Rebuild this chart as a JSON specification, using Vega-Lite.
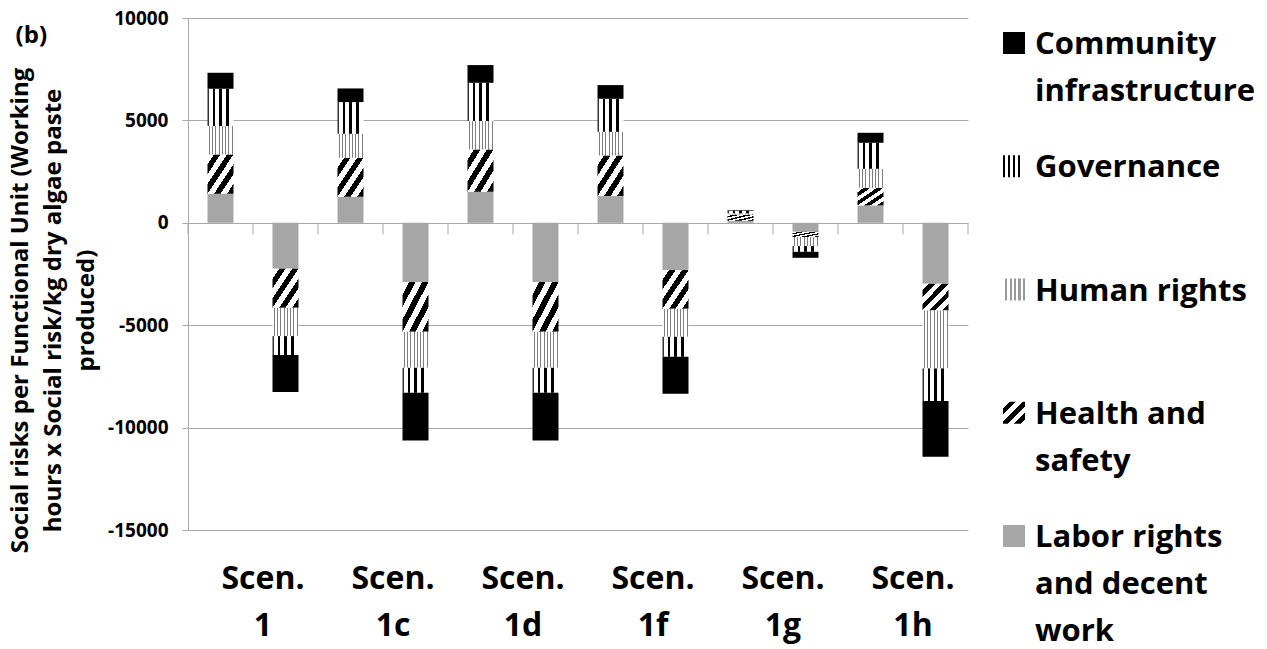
{
  "$schema": "https://vega.github.io/schema/vega-lite/v6.json",
  "autosize": {"type": "none"},
  "padding": {"left": 188, "top": 18, "right": 1079, "bottom": 631},
  "background": "white",
  "bounds": "flush",
  "spacing": 20,
  "config": {"font": "Open Sans", "view": {"stroke": null}},
  "datasets": {
    "risks": [
      {"scen": "1", "sign": "pos", "cat": "Labor rights and decent work", "k": 1, "value": 1417},
      {"scen": "1", "sign": "pos", "cat": "Health and safety", "k": 2, "value": 1923},
      {"scen": "1", "sign": "pos", "cat": "Human rights", "k": 3, "value": 1382},
      {"scen": "1", "sign": "pos", "cat": "Governance", "k": 4, "value": 1822},
      {"scen": "1", "sign": "pos", "cat": "Community infrastructure", "k": 5, "value": 781},
      {"scen": "1", "sign": "neg", "cat": "Labor rights and decent work", "k": 1, "value": -2246},
      {"scen": "1", "sign": "neg", "cat": "Health and safety", "k": 2, "value": -1904},
      {"scen": "1", "sign": "neg", "cat": "Human rights", "k": 3, "value": -1383},
      {"scen": "1", "sign": "neg", "cat": "Governance", "k": 4, "value": -927},
      {"scen": "1", "sign": "neg", "cat": "Community infrastructure", "k": 5, "value": -1807},
      {"scen": "1c", "sign": "pos", "cat": "Labor rights and decent work", "k": 1, "value": 1270},
      {"scen": "1c", "sign": "pos", "cat": "Health and safety", "k": 2, "value": 1905},
      {"scen": "1c", "sign": "pos", "cat": "Human rights", "k": 3, "value": 1172},
      {"scen": "1c", "sign": "pos", "cat": "Governance", "k": 4, "value": 1547},
      {"scen": "1c", "sign": "pos", "cat": "Community infrastructure", "k": 5, "value": 666},
      {"scen": "1c", "sign": "neg", "cat": "Labor rights and decent work", "k": 1, "value": -2896},
      {"scen": "1c", "sign": "neg", "cat": "Health and safety", "k": 2, "value": -2426},
      {"scen": "1c", "sign": "neg", "cat": "Human rights", "k": 3, "value": -1758},
      {"scen": "1c", "sign": "neg", "cat": "Governance", "k": 4, "value": -1221},
      {"scen": "1c", "sign": "neg", "cat": "Community infrastructure", "k": 5, "value": -2325},
      {"scen": "1d", "sign": "pos", "cat": "Labor rights and decent work", "k": 1, "value": 1514},
      {"scen": "1d", "sign": "pos", "cat": "Health and safety", "k": 2, "value": 2070},
      {"scen": "1d", "sign": "pos", "cat": "Human rights", "k": 3, "value": 1382},
      {"scen": "1d", "sign": "pos", "cat": "Governance", "k": 4, "value": 1871},
      {"scen": "1d", "sign": "pos", "cat": "Community infrastructure", "k": 5, "value": 864},
      {"scen": "1d", "sign": "neg", "cat": "Labor rights and decent work", "k": 1, "value": -2896},
      {"scen": "1d", "sign": "neg", "cat": "Health and safety", "k": 2, "value": -2426},
      {"scen": "1d", "sign": "neg", "cat": "Human rights", "k": 3, "value": -1758},
      {"scen": "1d", "sign": "neg", "cat": "Governance", "k": 4, "value": -1221},
      {"scen": "1d", "sign": "neg", "cat": "Community infrastructure", "k": 5, "value": -2325},
      {"scen": "1f", "sign": "pos", "cat": "Labor rights and decent work", "k": 1, "value": 1304},
      {"scen": "1f", "sign": "pos", "cat": "Health and safety", "k": 2, "value": 1987},
      {"scen": "1f", "sign": "pos", "cat": "Human rights", "k": 3, "value": 1153},
      {"scen": "1f", "sign": "pos", "cat": "Governance", "k": 4, "value": 1611},
      {"scen": "1f", "sign": "pos", "cat": "Community infrastructure", "k": 5, "value": 669},
      {"scen": "1f", "sign": "neg", "cat": "Labor rights and decent work", "k": 1, "value": -2310},
      {"scen": "1f", "sign": "neg", "cat": "Health and safety", "k": 2, "value": -1890},
      {"scen": "1f", "sign": "neg", "cat": "Human rights", "k": 3, "value": -1367},
      {"scen": "1f", "sign": "neg", "cat": "Governance", "k": 4, "value": -976},
      {"scen": "1f", "sign": "neg", "cat": "Community infrastructure", "k": 5, "value": -1807},
      {"scen": "1g", "sign": "pos", "cat": "Labor rights and decent work", "k": 1, "value": 100},
      {"scen": "1g", "sign": "pos", "cat": "Health and safety", "k": 2, "value": 300},
      {"scen": "1g", "sign": "pos", "cat": "Human rights", "k": 3, "value": 60},
      {"scen": "1g", "sign": "pos", "cat": "Governance", "k": 4, "value": 130},
      {"scen": "1g", "sign": "pos", "cat": "Community infrastructure", "k": 5, "value": 30},
      {"scen": "1g", "sign": "neg", "cat": "Labor rights and decent work", "k": 1, "value": -440},
      {"scen": "1g", "sign": "neg", "cat": "Health and safety", "k": 2, "value": -260},
      {"scen": "1g", "sign": "neg", "cat": "Human rights", "k": 3, "value": -438},
      {"scen": "1g", "sign": "neg", "cat": "Governance", "k": 4, "value": -278},
      {"scen": "1g", "sign": "neg", "cat": "Community infrastructure", "k": 5, "value": -293},
      {"scen": "1h", "sign": "pos", "cat": "Labor rights and decent work", "k": 1, "value": 850},
      {"scen": "1h", "sign": "pos", "cat": "Health and safety", "k": 2, "value": 859},
      {"scen": "1h", "sign": "pos", "cat": "Human rights", "k": 3, "value": 928},
      {"scen": "1h", "sign": "pos", "cat": "Governance", "k": 4, "value": 1270},
      {"scen": "1h", "sign": "pos", "cat": "Community infrastructure", "k": 5, "value": 488},
      {"scen": "1h", "sign": "neg", "cat": "Labor rights and decent work", "k": 1, "value": -2978},
      {"scen": "1h", "sign": "neg", "cat": "Health and safety", "k": 2, "value": -1300},
      {"scen": "1h", "sign": "neg", "cat": "Human rights", "k": 3, "value": -2832},
      {"scen": "1h", "sign": "neg", "cat": "Governance", "k": 4, "value": -1596},
      {"scen": "1h", "sign": "neg", "cat": "Community infrastructure", "k": 5, "value": -2720}
    ],
    "scenarios": [{"scen": "1"}, {"scen": "1c"}, {"scen": "1d"}, {"scen": "1f"}, {"scen": "1g"}, {"scen": "1h"}],
    "legendRows": [
      {"cat": "Community infrastructure", "label": "Community\ninfrastructure"},
      {"cat": "Governance", "label": "Governance"},
      {"cat": "Human rights", "label": "Human rights"},
      {"cat": "Health and safety", "label": "Health and\nsafety"},
      {"cat": "Labor rights and decent work", "label": "Labor rights\nand decent\nwork"}
    ]
  },
  "hconcat": [
    {
      "width": 780,
      "height": 512,
      "title": {"text": "(b)", "anchor": "start", "frame": "bounds", "fontSize": 24, "fontWeight": "bold", "color": "black", "offset": -39, "dx": 7},
      "layer": [
        {
          "data": {"name": "risks"},
          "transform": [
            {"stack": "value", "groupby": ["scen", "sign"], "sort": [{"field": "k", "order": "ascending"}], "as": ["y0", "y1"], "offset": "zero"}
          ],
          "encoding": {
            "x": {
              "field": "scen", "type": "nominal",
              "scale": {"domain": ["1", "1c", "1d", "1f", "1g", "1h"], "paddingInner": 0, "paddingOuter": 0},
              "axis": {"orient": "bottom", "domain": false, "ticks": false, "grid": false, "title": null, "labelAngle": 0,
                "labelExpr": "['Scen.', datum.label]", "labelFontSize": 32, "labelFontWeight": "bold", "labelColor": "black",
                "labelPadding": 33, "labelLineHeight": 47, "labelOffset": 10, "labelOverlap": false, "labelLimit": 300}
            },
            "xOffset": {"field": "sign", "type": "nominal", "scale": {"domain": ["pos", "neg"], "paddingInner": 0.6, "paddingOuter": 0.3}},
            "y": {
              "field": "y0", "type": "quantitative",
              "scale": {"domain": [-15000, 10000], "nice": false},
              "axis": {"values": [-15000, -10000, -5000, 0, 5000, 10000], "labelExpr": "'' + datum.value",
                "labelFontSize": 19, "labelFontWeight": "bold", "labelColor": "black", "labelPadding": 14, "labelFlush": false,
                "tickSize": 6, "tickColor": "#a8a8a8", "domainColor": "#a8a8a8", "gridColor": "#a8a8a8",
                "title": ["Social risks per Functional Unit (Working", "hours x Social risk/kg dry algae paste", "produced)"],
                "titleFontSize": 24, "titleFontWeight": "bold", "titleColor": "black", "titleLineHeight": 33, "titlePadding": 9, "titleY": 292}
            },
            "y2": {"field": "y1"}
          },
          "layer": [
            {
              "transform": [{"filter": "datum.cat === 'Labor rights and decent work'"}],
              "mark": {"type": "bar", "fill": "#a6a6a6"}
            },
            {
              "transform": [{"filter": "datum.cat === 'Health and safety'"}],
              "mark": {"type": "bar", "fill": {"gradient": "linear", "x1": 0, "y1": 0, "x2": 1, "y2": 1, "stops": [
                {"offset": 0, "color": "#ffffff"}, {"offset": 0.125, "color": "#ffffff"}, {"offset": 0.125, "color": "#000000"}, {"offset": 0.25, "color": "#000000"},
                {"offset": 0.25, "color": "#ffffff"}, {"offset": 0.375, "color": "#ffffff"}, {"offset": 0.375, "color": "#000000"}, {"offset": 0.5, "color": "#000000"},
                {"offset": 0.5, "color": "#ffffff"}, {"offset": 0.625, "color": "#ffffff"}, {"offset": 0.625, "color": "#000000"}, {"offset": 0.75, "color": "#000000"},
                {"offset": 0.75, "color": "#ffffff"}, {"offset": 0.875, "color": "#ffffff"}, {"offset": 0.875, "color": "#000000"}, {"offset": 1, "color": "#000000"}]}}
            },
            {
              "transform": [{"filter": "datum.cat === 'Human rights'"}],
              "mark": {"type": "bar", "fill": {"gradient": "linear", "x1": 0, "y1": 0, "x2": 1, "y2": 0, "stops": [
                {"offset": 0, "color": "#ffffff"}, {"offset": 0.05, "color": "#ffffff"}, {"offset": 0.05, "color": "#7f7f7f"}, {"offset": 0.09, "color": "#7f7f7f"}, {"offset": 0.09, "color": "#ffffff"},
                {"offset": 0.175, "color": "#ffffff"}, {"offset": 0.175, "color": "#7f7f7f"}, {"offset": 0.215, "color": "#7f7f7f"}, {"offset": 0.215, "color": "#ffffff"},
                {"offset": 0.3, "color": "#ffffff"}, {"offset": 0.3, "color": "#7f7f7f"}, {"offset": 0.34, "color": "#7f7f7f"}, {"offset": 0.34, "color": "#ffffff"},
                {"offset": 0.425, "color": "#ffffff"}, {"offset": 0.425, "color": "#7f7f7f"}, {"offset": 0.465, "color": "#7f7f7f"}, {"offset": 0.465, "color": "#ffffff"},
                {"offset": 0.55, "color": "#ffffff"}, {"offset": 0.55, "color": "#7f7f7f"}, {"offset": 0.59, "color": "#7f7f7f"}, {"offset": 0.59, "color": "#ffffff"},
                {"offset": 0.675, "color": "#ffffff"}, {"offset": 0.675, "color": "#7f7f7f"}, {"offset": 0.715, "color": "#7f7f7f"}, {"offset": 0.715, "color": "#ffffff"},
                {"offset": 0.8, "color": "#ffffff"}, {"offset": 0.8, "color": "#7f7f7f"}, {"offset": 0.84, "color": "#7f7f7f"}, {"offset": 0.84, "color": "#ffffff"},
                {"offset": 0.925, "color": "#ffffff"}, {"offset": 0.925, "color": "#7f7f7f"}, {"offset": 0.965, "color": "#7f7f7f"}, {"offset": 0.965, "color": "#ffffff"},
                {"offset": 1, "color": "#ffffff"}]}}
            },
            {
              "transform": [{"filter": "datum.cat === 'Governance'"}],
              "mark": {"type": "bar", "fill": {"gradient": "linear", "x1": 0, "y1": 0, "x2": 1, "y2": 0, "stops": [
                {"offset": 0, "color": "#333333"}, {"offset": 0.07, "color": "#333333"}, {"offset": 0.07, "color": "#ffffff"}, {"offset": 0.2, "color": "#ffffff"},
                {"offset": 0.2, "color": "#000000"}, {"offset": 0.3, "color": "#000000"}, {"offset": 0.3, "color": "#ffffff"}, {"offset": 0.46, "color": "#ffffff"},
                {"offset": 0.46, "color": "#000000"}, {"offset": 0.55, "color": "#000000"}, {"offset": 0.55, "color": "#ffffff"}, {"offset": 0.72, "color": "#ffffff"},
                {"offset": 0.72, "color": "#000000"}, {"offset": 0.81, "color": "#000000"}, {"offset": 0.81, "color": "#ffffff"}, {"offset": 1, "color": "#ffffff"}]}}
            },
            {
              "transform": [{"filter": "datum.cat === 'Community infrastructure'"}],
              "mark": {"type": "bar", "fill": "#000000"}
            }
          ]
        },
        {
          "data": {"name": "scenarios"},
          "mark": {"type": "rule", "color": "#a8a8a8", "strokeWidth": 1},
          "encoding": {
            "x": {"field": "scen", "type": "nominal", "bandPosition": 0},
            "y": {"datum": 0},
            "y2": {"datum": -560}
          }
        },
        {
          "data": {"name": "scenarios"},
          "mark": {"type": "rule", "color": "#a8a8a8", "strokeWidth": 1},
          "encoding": {
            "x": {"field": "scen", "type": "nominal", "bandPosition": 0.5},
            "y": {"datum": 0},
            "y2": {"datum": -560}
          }
        },
        {
          "data": {"name": "scenarios"},
          "transform": [{"filter": "datum.scen === '1h'"}],
          "mark": {"type": "rule", "color": "#a8a8a8", "strokeWidth": 1},
          "encoding": {
            "x": {"field": "scen", "type": "nominal", "bandPosition": 1},
            "y": {"datum": 0},
            "y2": {"datum": -560}
          }
        }
      ]
    },
    {
      "width": 52,
      "height": 543,
      "data": {"name": "legendRows"},
      "encoding": {
        "y": {"field": "cat", "type": "nominal", "scale": {"type": "point", "domain": ["Community infrastructure", "Governance", "Human rights", "Health and safety", "Labor rights and decent work"], "padding": 0.2028}, "axis": null}
      },
      "layer": [
        {
          "transform": [{"filter": "datum.cat === 'Community infrastructure'"}],
          "mark": {"type": "square", "size": 484, "filled": true, "opacity": 1, "fill": "#000000", "strokeWidth": 0}
        },
        {
          "transform": [{"filter": "datum.cat === 'Governance'"}],
          "mark": {"type": "square", "size": 484, "filled": true, "opacity": 1, "strokeWidth": 0, "fill": {"gradient": "linear", "x1": 0, "y1": 0, "x2": 1, "y2": 0, "stops": [
            {"offset": 0, "color": "#000000"}, {"offset": 0.08, "color": "#000000"}, {"offset": 0.08, "color": "#ffffff"}, {"offset": 0.22, "color": "#ffffff"},
            {"offset": 0.22, "color": "#000000"}, {"offset": 0.3, "color": "#000000"}, {"offset": 0.3, "color": "#ffffff"}, {"offset": 0.46, "color": "#ffffff"},
            {"offset": 0.46, "color": "#000000"}, {"offset": 0.54, "color": "#000000"}, {"offset": 0.54, "color": "#ffffff"}, {"offset": 0.7, "color": "#ffffff"},
            {"offset": 0.7, "color": "#000000"}, {"offset": 0.78, "color": "#000000"}, {"offset": 0.78, "color": "#ffffff"}, {"offset": 1, "color": "#ffffff"}]}}
        },
        {
          "transform": [{"filter": "datum.cat === 'Human rights'"}],
          "mark": {"type": "square", "size": 484, "filled": true, "opacity": 1, "strokeWidth": 0, "fill": {"gradient": "linear", "x1": 0, "y1": 0, "x2": 1, "y2": 0, "stops": [
            {"offset": 0, "color": "#ffffff"}, {"offset": 0.1, "color": "#ffffff"}, {"offset": 0.1, "color": "#9a9a9a"}, {"offset": 0.2, "color": "#9a9a9a"},
            {"offset": 0.2, "color": "#ffffff"}, {"offset": 0.3, "color": "#ffffff"}, {"offset": 0.3, "color": "#9a9a9a"}, {"offset": 0.4, "color": "#9a9a9a"},
            {"offset": 0.4, "color": "#ffffff"}, {"offset": 0.5, "color": "#ffffff"}, {"offset": 0.5, "color": "#9a9a9a"}, {"offset": 0.6, "color": "#9a9a9a"},
            {"offset": 0.6, "color": "#ffffff"}, {"offset": 0.7, "color": "#ffffff"}, {"offset": 0.7, "color": "#9a9a9a"}, {"offset": 0.8, "color": "#9a9a9a"},
            {"offset": 0.8, "color": "#ffffff"}, {"offset": 0.9, "color": "#ffffff"}, {"offset": 0.9, "color": "#9a9a9a"}, {"offset": 1, "color": "#9a9a9a"}]}}
        },
        {
          "transform": [{"filter": "datum.cat === 'Health and safety'"}],
          "mark": {"type": "square", "size": 484, "filled": true, "opacity": 1, "strokeWidth": 0, "fill": {"gradient": "linear", "x1": 0, "y1": 0, "x2": 1, "y2": 1, "stops": [
            {"offset": 0, "color": "#ffffff"}, {"offset": 0.15, "color": "#ffffff"}, {"offset": 0.15, "color": "#000000"}, {"offset": 0.3, "color": "#000000"},
            {"offset": 0.3, "color": "#ffffff"}, {"offset": 0.45, "color": "#ffffff"}, {"offset": 0.45, "color": "#000000"}, {"offset": 0.6, "color": "#000000"},
            {"offset": 0.6, "color": "#ffffff"}, {"offset": 0.75, "color": "#ffffff"}, {"offset": 0.75, "color": "#000000"}, {"offset": 0.9, "color": "#000000"},
            {"offset": 0.9, "color": "#ffffff"}, {"offset": 1, "color": "#ffffff"}]}}
        },
        {
          "transform": [{"filter": "datum.cat === 'Labor rights and decent work'"}],
          "mark": {"type": "square", "size": 484, "filled": true, "opacity": 1, "fill": "#a6a6a6", "strokeWidth": 0}
        },
        {
          "mark": {"type": "text", "align": "left", "baseline": "alphabetic", "dx": 21, "dy": 11, "fontSize": 31, "fontWeight": "bold", "lineHeight": 47, "lineBreak": "\n", "color": "black"},
          "encoding": {"text": {"field": "label"}}
        }
      ]
    }
  ]
}
